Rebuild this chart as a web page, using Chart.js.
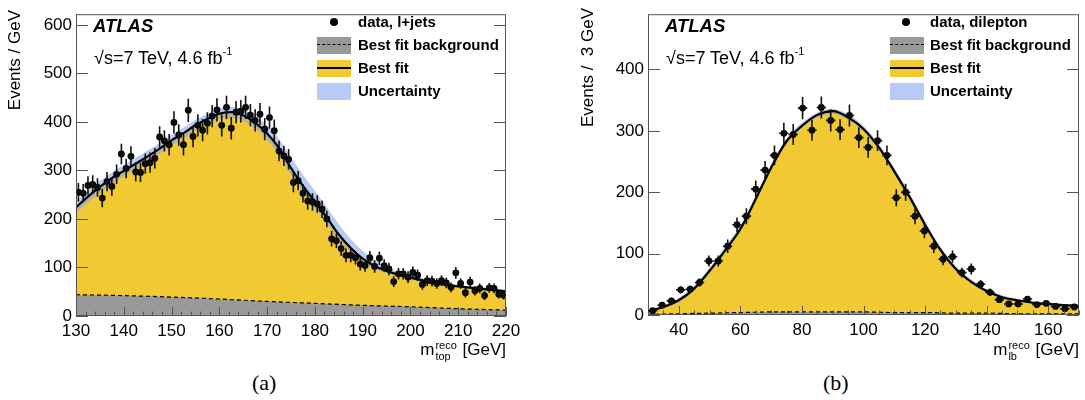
<!DOCTYPE html>
<html lang="fr">
<head>
<meta charset="utf-8">
<title>ATLAS m_top / m_lb</title>
<script src="https://cdn.jsdelivr.net/npm/chart.js@4.4.0/dist/chart.umd.min.js"></script>
<style>
    body { margin: 0; background: #fff; }
    #page { position: relative; width: 1085px; height: 400px; font-family: "Liberation Sans", Arial, sans-serif; color: #000; overflow: hidden; }
    canvas { position: absolute; top: 0; }
    .t { position: absolute; white-space: nowrap; }
    .atlas { font-size: 18.5px; font-weight: bold; font-style: italic; line-height: 20px; }
    .energie { font-size: 18px; line-height: 20px; }
    .energie sup { font-size: 11px; position: relative; top: -2px; }
    .leg { font-size: 15px; font-weight: bold; line-height: 18px; }
    .case { position: absolute; width: 34px; height: 17px; }
    .point { position: absolute; width: 8px; height: 8px; border-radius: 50%; background: #000; }
    .ytitre { position: absolute; width: 200px; text-align: right; transform-origin: 0 0; transform: rotate(-90deg); font-size: 17px; line-height: 20px; white-space: pre; }
    .xtitre { font-size: 17px; line-height: 20px; }
    .ss { display: inline-block; font-size: 11px; line-height: 11px; vertical-align: -5px; margin: 0 1px 0 1px; }
    .ss span { display: block; }
    .lettre { font-family: "Liberation Serif", "Times New Roman", serif; font-size: 22px; line-height: 24px; }
</style>
</head>
<body>
<div id="page">
    <canvas id="graphique-top" width="540" height="345" style="left:0px"></canvas>
    <canvas id="graphique-lb" width="545" height="345" style="left:540px"></canvas>

    <!-- panneau (a) -->
    <div class="t atlas" style="left:93px; top:16px">ATLAS</div>
    <div class="t energie" style="left:94px; top:43px">√s=7 TeV, 4.6 fb<sup>-1</sup></div>
    <div class="point" style="left:330px; top:18px"></div>
    <div class="t leg" style="left:358px; top:13px">data, l+jets</div>
    <div class="case" style="left:317px; top:37px; background:#999"><div style="margin-top:7px; border-top:1.5px dashed #000"></div></div>
    <div class="t leg" style="left:358px; top:36px">Best fit background</div>
    <div class="case" style="left:317px; top:60px; background:#F1C932"><div style="margin-top:7px; border-top:2px solid #000"></div></div>
    <div class="t leg" style="left:358px; top:59px">Best fit</div>
    <div class="case" style="left:317px; top:83px; background:#B7CAF8"></div>
    <div class="t leg" style="left:358px; top:82px">Uncertainty</div>
    <div class="ytitre" style="left:5px; top:210px">Events / GeV</div>
    <div class="t xtitre" style="right:579px; top:340px">m<span class="ss"><span>reco</span><span>top</span></span> [GeV]</div>
    <div class="t lettre" style="left:252px; top:371px">(a)</div>

    <!-- panneau (b) -->
    <div class="t atlas" style="left:665px; top:16px">ATLAS</div>
    <div class="t energie" style="left:666px; top:43px">√s=7 TeV, 4.6 fb<sup>-1</sup></div>
    <div class="point" style="left:902px; top:18px"></div>
    <div class="t leg" style="left:930px; top:13px">data, dilepton</div>
    <div class="case" style="left:890px; top:37px; background:#999"><div style="margin-top:7px; border-top:1.5px dashed #000"></div></div>
    <div class="t leg" style="left:930px; top:36px">Best fit background</div>
    <div class="case" style="left:890px; top:60px; background:#F1C932"><div style="margin-top:7px; border-top:2px solid #000"></div></div>
    <div class="t leg" style="left:930px; top:59px">Best fit</div>
    <div class="case" style="left:890px; top:83px; background:#B7CAF8"></div>
    <div class="t leg" style="left:930px; top:82px">Uncertainty</div>
    <div class="ytitre" style="left:578px; top:208px">Events /  3 GeV</div>
    <div class="t xtitre" style="right:6px; top:340px">m<span class="ss"><span>reco</span><span>lb</span></span> [GeV]</div>
    <div class="t lettre" style="left:823px; top:371px">(b)</div>
</div>

<script>
// ---------- Panneau (a) : l+jets, bins de 1 GeV entre 130 et 220 ----------
const binsTop = [130, 220, 1];   // min, max, largeur du bin
const donneesTop = [
    255, 253, 269, 271, 265, 243, 277, 267, 292, 334,
    304, 329, 297, 296, 314, 316, 325, 369, 361, 353,
    399, 373, 353, 424, 370, 393, 383, 397, 412, 425,
    393, 430, 387, 420, 422, 430, 414, 403, 416, 385,
    409, 382, 340, 330, 323, 275, 279, 253, 237, 235,
    231, 220, 200, 159, 155, 139, 125, 125, 120, 107,
    104, 120, 102, 119, 104, 97, 71, 87, 87, 80,
    90, 84, 65, 73, 72, 67, 73, 68, 59, 89,
    67, 48, 70, 52, 57, 42, 58, 57, 45, 43
];
const erreursTop = [
    19, 19, 19, 19, 19, 19, 20, 19, 20, 21,
    20, 21, 20, 20, 21, 21, 21, 22, 22, 22,
    23, 22, 22, 24, 22, 23, 23, 23, 23, 24,
    23, 24, 23, 23, 23, 24, 23, 23, 23, 23,
    23, 23, 21, 21, 21, 20, 20, 19, 18, 18,
    18, 18, 17, 16, 15, 15, 14, 14, 14, 13,
    13, 14, 13, 14, 13, 13, 11, 12, 12, 12,
    12, 12, 11, 11, 11, 11, 11, 11, 10, 12,
    11, 10, 11, 10, 10, 9, 10, 10, 9, 9
];
const ajustXTop = [130, 132.5, 135, 137.5, 140, 142.5, 145, 147.5, 150, 152.5, 155, 157.5, 160, 162.5, 165, 167.5,
    170, 172.5, 175, 177.5, 180, 182.5, 185, 187.5, 190, 192.5, 195, 197.5, 200, 205, 210, 215, 220];
const ajustTop = [224, 246, 266, 284, 299, 314, 329, 345, 362, 377, 393, 406, 417, 420, 413, 398,
    376, 346, 305, 268, 236, 203, 168, 140, 118, 103, 93, 85, 79, 68, 61, 56, 51];
const incertBasTop = [212, 234, 254, 272, 288, 303, 318, 334, 351, 366, 382, 395, 406, 409, 402, 386,
    362, 331, 291, 255, 222, 190, 157, 131, 110, 97, 88, 81, 75, 65, 58, 53, 48];
const incertHautTop = [236, 258, 278, 296, 311, 326, 341, 356, 373, 388, 404, 417, 428, 431, 425, 412,
    392, 365, 327, 291, 258, 224, 189, 158, 134, 115, 102, 91, 84, 72, 64, 59, 54];
const fondXTop = [130, 140, 150, 160, 170, 180, 190, 200, 210, 220];
const fondTop = [44, 42, 39, 35, 30, 26, 22, 19, 15, 12];
const yLabelsTop = [0, 100, 200, 300, 400, 500, 600];
const xLabelsTop = [130, 140, 150, 160, 170, 180, 190, 200, 210, 220];

// ---------- Panneau (b) : dilepton, 46 bins entre 30 et 170 ----------
const binsLb = [30, 170, 140 / 46];
const donneesLb = [
    7, 16, 23, 41, 42, 53, 88, 88, 112, 147,
    161, 205, 236, 260, 296, 294, 337, 301, 338, 317,
    302, 325, 289, 273, 284, 260, 191, 200, 161, 137,
    112, 91, 95, 69, 75, 50, 37, 25, 18, 18,
    26, 17, 19, 14, 10, 13
];
const erreursLb = [
    3, 4, 5, 6, 6, 7, 9, 9, 11, 12,
    13, 14, 15, 16, 17, 17, 18, 17, 18, 18,
    17, 18, 17, 17, 17, 16, 14, 14, 13, 12,
    11, 10, 10, 8, 9, 7, 6, 5, 4, 4,
    5, 4, 4, 4, 3, 4
];
const ajustXLb = [30, 35, 40, 45, 50, 55, 60, 65, 70, 75, 80, 85, 90, 95, 100, 105, 110, 115, 120, 125,
    130, 135, 140, 145, 150, 155, 160, 165, 170];
const ajustLb = [6, 13, 24, 43, 72, 105, 140, 189, 240, 283, 308, 326, 332, 322, 303, 273, 234, 192, 147, 106,
    75, 54, 39, 29, 24, 20, 18, 16, 15];
const incertBasLb = [4, 11, 21, 40, 68, 101, 136, 185, 236, 279, 304, 322, 328, 318, 299, 269, 230, 188, 143, 103,
    72, 51, 37, 27, 22, 18, 16, 14, 13];
const incertHautLb = [8, 16, 28, 48, 77, 111, 146, 195, 246, 288, 313, 330, 336, 327, 308, 279, 240, 198, 153, 111,
    79, 58, 42, 32, 26, 22, 20, 18, 17];
const fondXLb = [30, 40, 50, 60, 70, 80, 90, 100, 110, 120, 130, 140, 150, 160, 170];
const fondLb = [1, 2, 3, 4, 5, 5, 5, 5, 4, 4, 3, 3, 2, 2, 2];
const yLabelsLb = [0, 100, 200, 300, 400];
const xLabelsLb = [40, 60, 80, 100, 120, 140, 160];

// Couleurs
const JAUNE = "#F1C932";
const GRIS = "#999999";
const BLEU = "rgba(140, 165, 235, 0.6)";
const POLICE = "'Liberation Sans', Arial, sans-serif";

function courbe(xs, ys) {
    return xs.map((x, i) => ({ x: x, y: ys[i] }));
}

// Barres d'erreur (verticales et horizontales) dessinées avec les échelles du graphique
const barresErreur = {
    id: "barresErreur",
    afterDatasetsDraw(chart) {
        const ctx = chart.ctx;
        const x = chart.scales.x;
        const y = chart.scales.y;
        for (const ds of chart.data.datasets) {
            if (!ds.erreurs) continue;
            ctx.save();
            ctx.strokeStyle = "#111";
            ctx.lineWidth = 1.6;
            ds.data.forEach((p, i) => {
                const e = ds.erreurs[i];
                const px = x.getPixelForValue(p.x);
                const py = y.getPixelForValue(p.y);
                ctx.beginPath();
                ctx.moveTo(px, y.getPixelForValue(p.y - e));
                ctx.lineTo(px, y.getPixelForValue(p.y + e));
                ctx.moveTo(x.getPixelForValue(p.x - ds.demiLargeur), py);
                ctx.lineTo(x.getPixelForValue(p.x + ds.demiLargeur), py);
                ctx.stroke();
            });
            ctx.restore();
        }
    }
};

// Cadre + graduations intérieures (style ROOT)
const cadre = {
    id: "cadre",
    afterDatasetsDraw(chart, args, opts) {
        const ctx = chart.ctx;
        const a = chart.chartArea;
        const sx = chart.scales.x;
        const sy = chart.scales.y;
        ctx.save();
        ctx.strokeStyle = "#555";
        ctx.lineWidth = 1;
        ctx.beginPath();
        for (let v = sx.min; v <= sx.max + 1e-6; v += opts.xMineur) {
            const px = Math.round(sx.getPixelForValue(v)) + 0.5;
            const majeur = Math.abs(v / opts.xMajeur - Math.round(v / opts.xMajeur)) < 1e-6;
            const long = majeur ? opts.xLong : opts.xLong / 2;
            ctx.moveTo(px, a.bottom);
            ctx.lineTo(px, a.bottom - long);
        }
        for (const v of opts.yGrad) {
            const py = Math.round(sy.getPixelForValue(v)) + 0.5;
            ctx.moveTo(a.left, py);
            ctx.lineTo(a.left + opts.yLong, py);
            ctx.moveTo(a.right, py);
            ctx.lineTo(a.right - opts.yLong, py);
        }
        ctx.stroke();
        ctx.strokeRect(a.left + 0.5, a.top + 0.5, a.width - 1, a.height - 1);
        ctx.restore();
    }
};

function tracer(id, p) {
    const [xMin, xMax, largeur] = p.bins;
    const centres = p.donnees.map((v, i) => xMin + largeur * (i + 0.5));
    const lisse = { pointRadius: 0, cubicInterpolationMode: "monotone" };

    return new Chart(document.getElementById(id), {
        type: "line",
        data: {
            datasets: [
                { ...lisse, data: courbe(p.ajustX, p.ajust), fill: "origin", backgroundColor: JAUNE, borderColor: "transparent", borderWidth: 0, order: 6 },
                { ...lisse, data: courbe(p.ajustX, p.incertBas), fill: false, borderColor: "transparent", borderWidth: 0, order: 5 },
                { ...lisse, data: courbe(p.ajustX, p.incertHaut), fill: "-1", backgroundColor: BLEU, borderColor: "transparent", borderWidth: 0, order: 4 },
                { ...lisse, data: courbe(p.fondX, p.fond), fill: "origin", backgroundColor: GRIS, borderColor: "#000", borderWidth: 1.2, borderDash: [4, 3], order: 3 },
                { ...lisse, data: courbe(p.ajustX, p.ajust), fill: false, borderColor: "#000", borderWidth: 2.2, order: 2 },
                { type: "scatter", data: courbe(centres, p.donnees), erreurs: p.erreurs, demiLargeur: largeur / 2,
                  pointRadius: 3.4, backgroundColor: "#000", borderWidth: 0, order: 1 }
            ]
        },
        options: {
            responsive: false,
            animation: false,
            events: [],
            layout: { padding: { left: 0, right: p.margeDroite, top: 5, bottom: 0 } },
            plugins: {
                legend: { display: false },
                tooltip: { enabled: false },
                cadre: { xMajeur: p.xMajeur, xMineur: p.xMineur, xLong: 9, yGrad: p.yLabels, yLong: 12 }
            },
            scales: {
                x: {
                    type: "linear", min: xMin, max: xMax,
                    grid: { display: false, drawTicks: false },
                    border: { display: false },
                    ticks: { color: "#000", padding: 5, maxRotation: 0, autoSkip: false, font: { family: POLICE, size: 17 } },
                    afterBuildTicks: s => { s.ticks = p.xLabels.map(v => ({ value: v })); },
                    afterFit: s => { s.height = p.hauteurX; }
                },
                y: {
                    type: "linear", min: 0, max: p.yMax,
                    grid: { display: false, drawTicks: false },
                    border: { display: false },
                    ticks: { color: "#000", padding: 4, autoSkip: false, font: { family: POLICE, size: 17 } },
                    afterBuildTicks: s => { s.ticks = p.yLabels.map(v => ({ value: v })); },
                    afterFit: s => { s.width = p.largeurY; }
                }
            }
        },
        plugins: [cadre, barresErreur]
    });
}

tracer("graphique-top", {
    bins: binsTop, donnees: donneesTop, erreurs: erreursTop,
    ajustX: ajustXTop, ajust: ajustTop, incertBas: incertBasTop, incertHaut: incertHautTop,
    fondX: fondXTop, fond: fondTop, xLabels: xLabelsTop, yLabels: yLabelsTop,
    xMajeur: 10, xMineur: 2, yMax: 622,
    largeurY: 76, margeDroite: 34, hauteurX: 29
});

tracer("graphique-lb", {
    bins: binsLb, donnees: donneesLb, erreurs: erreursLb,
    ajustX: ajustXLb, ajust: ajustLb, incertBas: incertBasLb, incertHaut: incertHautLb,
    fondX: fondXLb, fond: fondLb, xLabels: xLabelsLb, yLabels: yLabelsLb,
    xMajeur: 20, xMineur: 5, yMax: 490,
    largeurY: 108, margeDroite: 6, hauteurX: 30
});
</script>
</body>
</html>
